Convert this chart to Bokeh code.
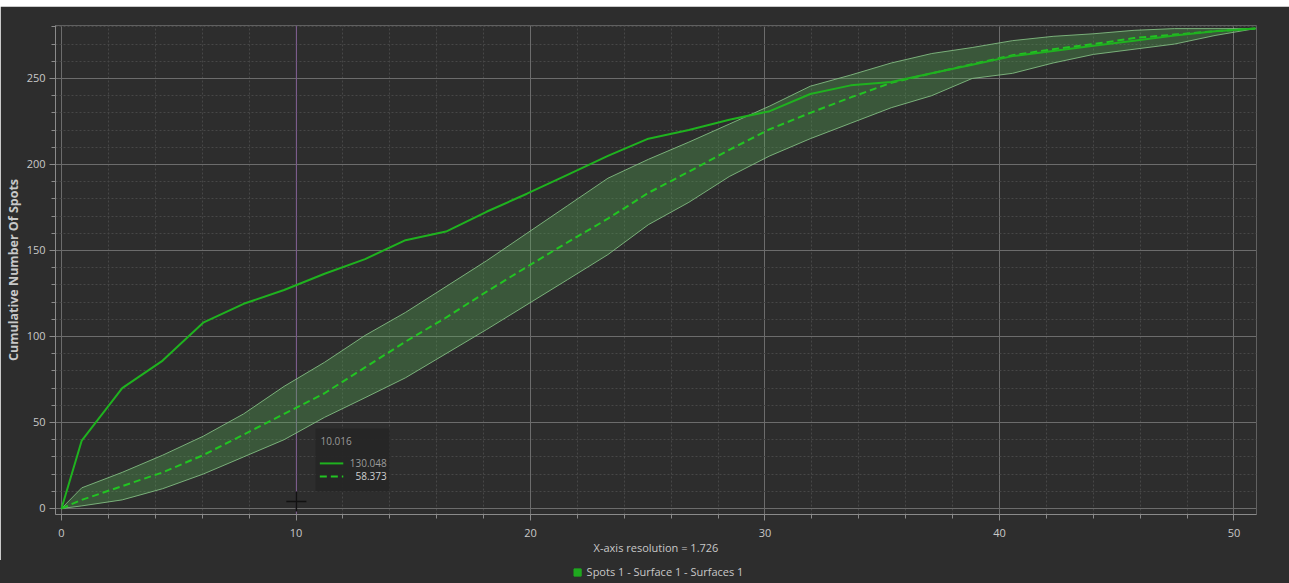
from bokeh.plotting import figure
from bokeh.models import (Range1d, SingleIntervalTicker, Span, Legend, LegendItem,
                          ColumnDataSource, Label, Spacer)
from bokeh.layouts import column
from bokeh.embed import file_html
from bokeh.resources import INLINE

# ---- data ----
x_vals = [0, 0.863, 2.589, 4.315, 6.041, 7.767, 9.493, 11.219, 12.945, 14.671, 16.397,
          18.123, 19.849, 21.575, 23.301, 25.027, 26.753, 28.479, 30.205, 31.931, 33.657,
          35.383, 37.109, 38.835, 40.561, 42.287, 44.013, 45.739, 47.465, 49.191, 50.917]
observed = [0, 39.5, 70, 86, 108, 119, 127, 136.5, 145, 156, 161, 172.5, 183, 194, 205, 215,
            220, 226, 231, 241, 246, 248, 253, 258, 263, 266, 269, 272, 275, 277.5, 279]
sim_mean = [0, 5, 13, 21, 31, 43, 55, 67, 82, 97, 111, 126, 140.5, 154.7, 168.5, 183.5,
            195.8, 208.5, 220.5, 230, 239, 247.5, 253, 258.3, 263.5, 267, 270, 273.5, 275.5,
            277.5, 279]
sim_upper = [0, 12, 21, 31, 42, 55, 71, 85, 100.6, 114, 129, 144, 160, 176, 192, 203, 213,
             223.5, 234, 245.5, 252, 259, 264.5, 268, 272, 274.5, 276, 278, 279, 279, 279]
sim_lower = [0, 1.5, 5, 11.5, 20, 30, 40, 53, 64.4, 76, 90, 104, 118.5, 133, 147.6, 165, 178,
             193, 205, 215, 224, 233, 240, 250, 253, 259, 264, 267, 270, 275, 279]

series_name = "Spots 1 - Surface 1 - Surfaces 1"
x_title = "X-axis resolution = 1.726"
y_title = "Cumulative Number Of Spots"
cursor_x = 10.016
tip_title = "10.016"
tip_values = ["130.048", "58.373"]

BG = "#2d2d2d"
TXT = "#c8c8c8"
FONT = "Open Sans"
W = 1289

p = figure(width=W, height=554, output_backend="svg", toolbar_location=None,
           x_range=Range1d(-0.256, 50.96), y_range=Range1d(-3.5, 280.8),
           background_fill_color=BG, border_fill_color=BG, outline_line_color=None,
           min_border_left=55, min_border_right=33, min_border_top=19, min_border_bottom=46)

# axes
p.xaxis.ticker = SingleIntervalTicker(interval=10, num_minor_ticks=5)
p.yaxis.ticker = SingleIntervalTicker(interval=50, num_minor_ticks=5)
for ax in (p.xaxis[0], p.yaxis[0]):
    ax.axis_line_color = "#8a8a8a"
    ax.major_tick_line_color = "#8a8a8a"
    ax.minor_tick_line_color = "#8a8a8a"
    ax.major_tick_out = 6
    ax.major_tick_in = 0
    ax.minor_tick_out = 4
    ax.minor_tick_in = 0
    ax.major_label_text_color = TXT
    ax.major_label_text_font = FONT
    ax.major_label_text_font_size = "11px"
    ax.axis_label_text_color = TXT
    ax.axis_label_text_font = FONT
p.yaxis.major_label_standoff = 4
p.xaxis.major_label_standoff = 8
p.xaxis.axis_label = x_title
p.xaxis.axis_label_text_font_style = "normal"
p.xaxis.axis_label_text_font_size = "11px"
p.xaxis.axis_label_standoff = 0
p.yaxis.axis_label = y_title
p.yaxis.axis_label_text_font_style = "bold"
p.yaxis.axis_label_text_font_size = "12.5px"
p.yaxis.axis_label_standoff = 2

# grids
for g in (p.xgrid[0], p.ygrid[0]):
    g.grid_line_color = "#6c6c6c"
    g.grid_line_width = 1
    g.minor_grid_line_color = "#474747"
    g.minor_grid_line_dash = "2 2"
    g.minor_grid_line_width = 1

# cursor line (under the glyphs)
p.add_layout(Span(location=cursor_x, dimension="height", line_color="#7e5a90", line_width=1,
                  level="underlay"))

# band of simulated envelope
src = ColumnDataSource(dict(x=x_vals, obs=observed, mean=sim_mean, up=sim_upper, lo=sim_lower))
p.varea(x="x", y1="lo", y2="up", source=src, fill_color="#55ae55", fill_alpha=0.33)
p.line(x="x", y="up", source=src, line_color="#86c286", line_width=1, line_alpha=0.85)
p.line(x="x", y="lo", source=src, line_color="#86c286", line_width=1, line_alpha=0.85)
p.line(x="x", y="mean", source=src, line_color="#22c422", line_width=2, line_dash="7 4")
p.line(x="x", y="obs", source=src, line_color="#1fb21f", line_width=2)

# tooltip box (placed relative to the cursor)
p.quad(left=[cursor_x + 0.82], right=[cursor_x + 3.98], bottom=[9.9], top=[46.5],
       fill_color="#262626", fill_alpha=0.95, line_color=None)
p.line(x=[cursor_x + 1.0, cursor_x + 2.0], y=[26.2, 26.2], line_color="#1fb21f", line_width=2)
p.line(x=[cursor_x + 1.0, cursor_x + 2.0], y=[18.6, 18.6], line_color="#22c422", line_width=2,
       line_dash="7 4")
p.add_layout(Label(x=cursor_x + 1.03, y=39.0, text=tip_title, text_color="#9a9a9a",
                   text_font=FONT, text_font_size="10px", text_baseline="middle"))
p.add_layout(Label(x=cursor_x + 3.85, y=26.2, text=tip_values[0], text_color="#9a9a9a",
                   text_font=FONT, text_font_size="10px", text_baseline="middle", text_align="right"))
p.add_layout(Label(x=cursor_x + 3.85, y=18.6, text=tip_values[1], text_color="#d0d0d0",
                   text_font=FONT, text_font_size="10px", text_baseline="middle", text_align="right"))

# mouse crosshair
p.scatter(x=[cursor_x], y=[4.1], marker="cross", size=20, line_color="#111111", line_width=1.5)

# legend strip below the chart (canvas transparent, dark background from the element itself)
p2 = figure(width=W, height=23, output_backend="svg", toolbar_location=None,
            x_range=Range1d(0, 1), y_range=Range1d(0, 1), x_axis_type=None, y_axis_type=None,
            background_fill_color=None, border_fill_color=None, outline_line_color=None,
            min_border=0, styles={"background-color": BG})
# dummy (off-range) point, only used for the legend swatch
sq = p2.scatter(x=[-5], y=[-5], marker="square", size=9, fill_color="#1fa81f",
                line_color="#1fa81f")
legend = Legend(items=[LegendItem(label=series_name, renderers=[sq])], orientation="horizontal",
                location="center", background_fill_color=None, border_line_color=None,
                label_text_color=TXT, label_text_font=FONT, label_text_font_size="11px",
                label_height=14, glyph_width=18, glyph_height=18, padding=0, margin=0,
                label_standoff=1)
p2.add_layout(legend, "center")

layout = column(Spacer(width=W, height=6), p, p2, spacing=0)
open("out.html", "w").write(file_html(layout, INLINE))
